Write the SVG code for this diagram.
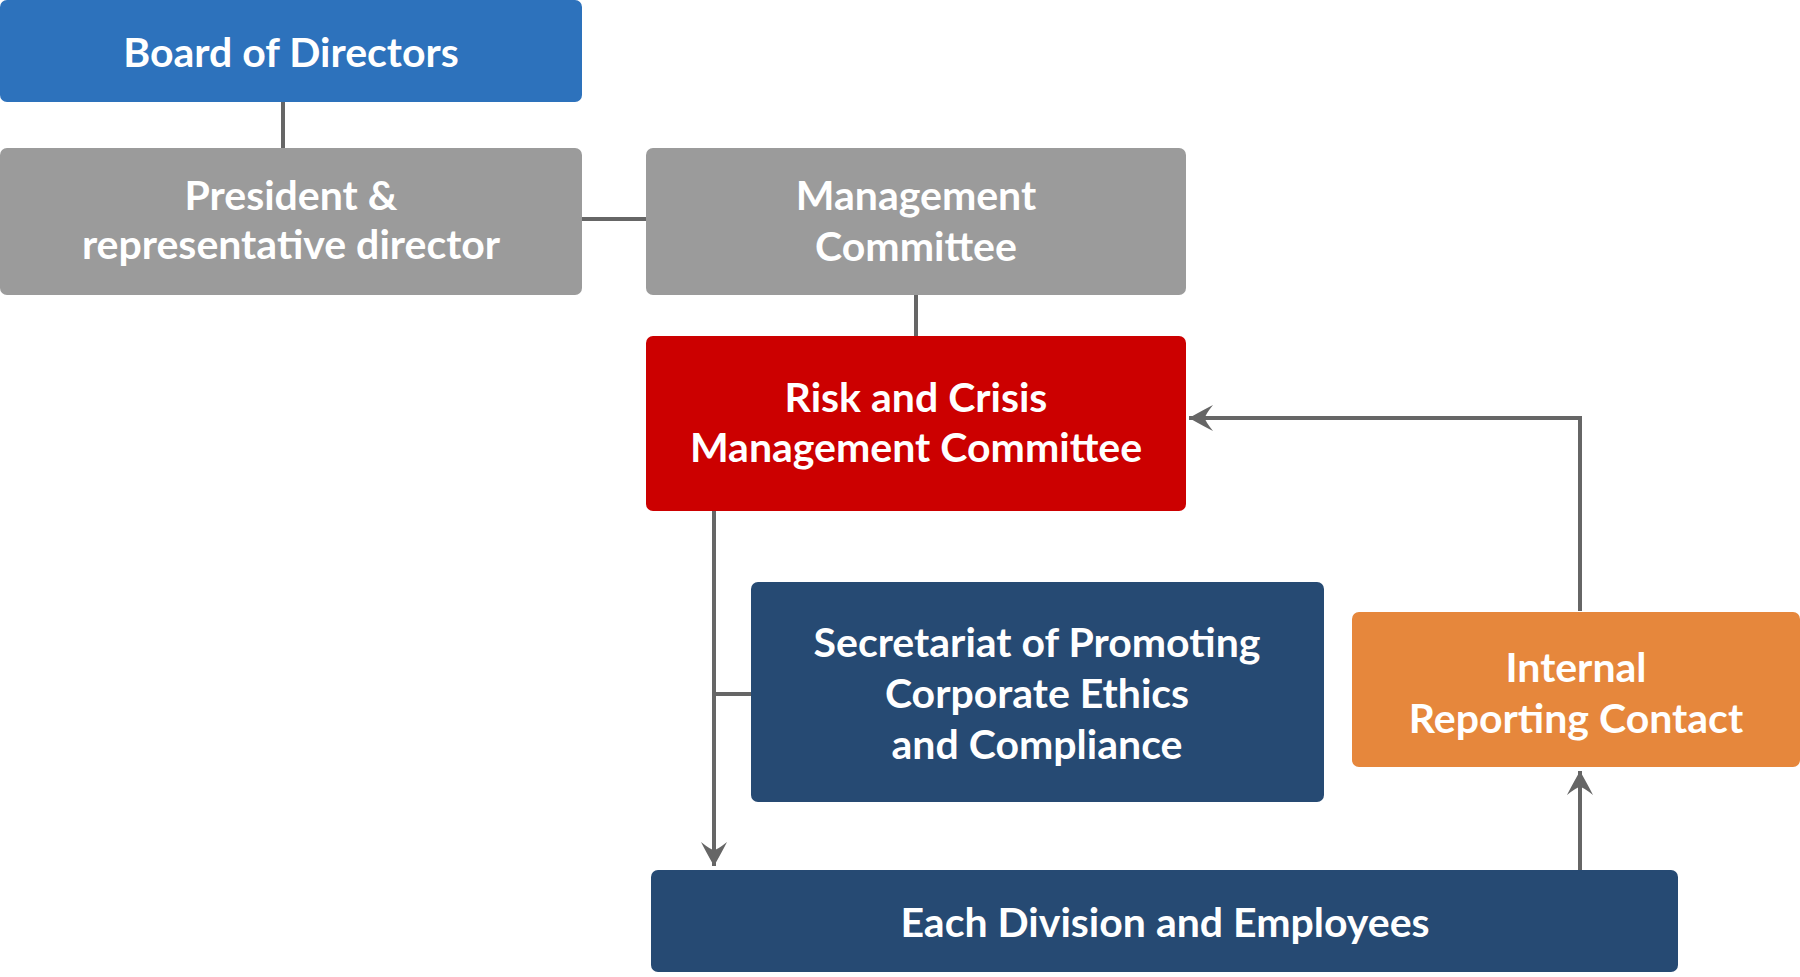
<svg xmlns="http://www.w3.org/2000/svg" width="1800" height="977" viewBox="0 0 1800 977">
<style>
text{font-family:Lato,"Noto Sans",sans-serif;font-weight:700;font-size:41px;fill:#fff;text-anchor:middle}
.c{stroke:#666;stroke-width:4;fill:none}
</style>
<defs>
<marker id="a" markerWidth="30" markerHeight="30" refX="26" refY="15" orient="auto" markerUnits="userSpaceOnUse">
<path d="M26 15 Q10 6 2 2 Q10 12 10 15 Q10 18 2 28 Q10 24 26 15Z" fill="#666"/>
</marker>
</defs>
<rect width="1800" height="977" fill="#fff"/>
<g id="connectors">
<path class="c" d="M283 102V148"/>
<path class="c" d="M582 219H646"/>
<path class="c" d="M916 295V336"/>
<path class="c" d="M714 511V866" marker-end="url(#a)"/>
<path class="c" d="M714 694H751"/>
<path class="c" d="M1580 611V418H1189" marker-end="url(#a)"/>
<path class="c" d="M1580 870V771" marker-end="url(#a)"/>
</g>
<g id="board"><rect x="0" y="0" width="582" height="102" rx="7" fill="#2d72bc"/><text x="291" y="67">Board of Directors</text></g>
<g id="president"><rect x="0" y="148" width="582" height="147" rx="7" fill="#9b9b9b"/><text x="291" y="210">President &amp;</text><text x="291" y="259">representative director</text></g>
<g id="management"><rect x="646" y="148" width="540" height="147" rx="7" fill="#9b9b9b"/><text x="916" y="210">Management</text><text x="916" y="261">Committee</text></g>
<g id="risk"><rect x="646" y="336" width="540" height="175" rx="7" fill="#cc0000"/><text x="916" y="412">Risk and Crisis</text><text x="916" y="462">Management Committee</text></g>
<g id="secretariat"><rect x="751" y="582" width="573" height="220" rx="7" fill="#264a73"/><text x="1037" y="657">Secretariat of Promoting</text><text x="1037" y="708">Corporate Ethics</text><text x="1037" y="759">and Compliance</text></g>
<g id="internal"><rect x="1352" y="612" width="448" height="155" rx="7" fill="#e6873c"/><text x="1576" y="682">Internal</text><text x="1576" y="733">Reporting Contact</text></g>
<g id="each"><rect x="651" y="870" width="1027" height="102" rx="7" fill="#264a73"/><text x="1165" y="937">Each Division and Employees</text></g>
</svg>
